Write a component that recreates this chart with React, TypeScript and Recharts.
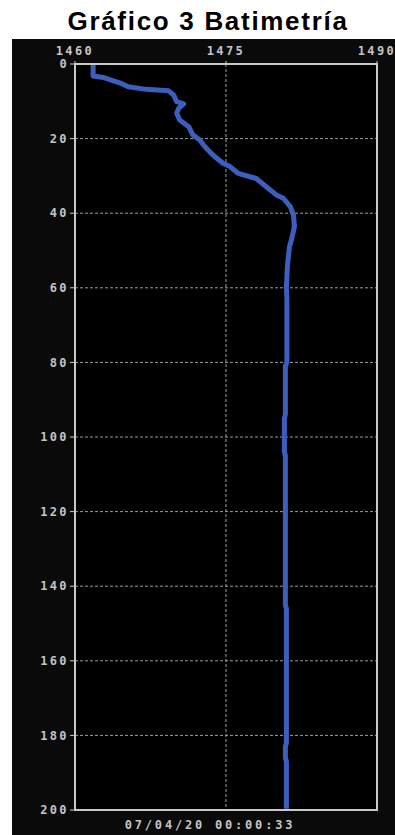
import React from "react";
import {
  LineChart,
  Line,
  XAxis,
  YAxis,
  CartesianGrid,
  ReferenceArea,
} from "recharts";

// Sound-speed profile (m/s) against depth (m)
const depths = [
  0, 3.2, 3.6, 4.3, 5.2, 6.1, 6.8, 7.2, 8.3, 10.1, 10.7, 11.9, 13.2, 15.0,
  16.8, 19.0, 20.4, 22.2, 24.4, 26.6, 27.5, 29.3, 30.7, 32.9, 35.1, 36.0, 38.3,
  40.5, 43.6, 47.2, 49.0, 54.3, 60.0, 63.0, 80.0, 81.0, 94.0, 95.0, 104.0,
  105.0, 145.0, 146.0, 182.0, 183.0, 186.0, 187.0, 199.0,
];
const speeds = [
  1461.8, 1461.8, 1462.8, 1463.6, 1464.6, 1465.3, 1467.1, 1469.3, 1469.8,
  1470.1, 1470.8, 1470.3, 1470.1, 1470.4, 1471.3, 1471.7, 1472.4, 1472.9,
  1473.7, 1474.7, 1475.4, 1476.2, 1478.0, 1479.0, 1480.0, 1480.7, 1481.4,
  1481.7, 1481.8, 1481.5, 1481.3, 1481.1, 1481.0, 1481.05, 1481.05, 1480.9,
  1480.9, 1480.8, 1480.8, 1480.9, 1480.9, 1481.0, 1481.0, 1480.9, 1480.9,
  1481.0, 1481.0,
];
const speedTicks = [1460, 1475, 1490];
const depthTicks = [0, 20, 40, 60, 80, 100, 120, 140, 160, 180, 200];
const title = "Gráfico 3 Batimetría";
const timestamp = "07/04/20 00:00:33";

const rows = depths.map((d, i) => ({ depth: d, speed: speeds[i] }));

const tickStyle = {
  fill: "#c4c4c4",
  fontSize: 12,
  fontFamily: "'DejaVu Sans Mono', monospace",
  fontWeight: "bold" as const,
  letterSpacing: 2.4,
};

export default function App() {
  return (
    <div
      style={{
        position: "absolute",
        left: 0,
        top: 0,
        width: 395,
        height: 835,
        background: "#fff",
        overflow: "hidden",
      }}
    >
      <div
        style={{
          position: "absolute",
          left: 0,
          width: 416,
          top: 6,
          textAlign: "center",
          fontFamily: "'Liberation Sans', Arial, sans-serif",
          fontWeight: "bold",
          fontSize: 26,
          letterSpacing: 1.7,
          color: "#000",
          lineHeight: "30px",
        }}
      >
        {title}
      </div>
      <div
        style={{
          position: "absolute",
          left: 12,
          top: 39,
          width: 383,
          height: 796,
          background: "#0a0a0a",
        }}
      />
      <div style={{ position: "absolute", left: 0, top: 0 }}>
        <LineChart
          width={395}
          height={835}
          layout="vertical"
          data={rows}
          margin={{ top: 34, right: 18, bottom: 25, left: 15 }}
        >
          <CartesianGrid
            fill="#000"
            stroke="#9c9c9c"
            strokeDasharray="3 2"
          />
          <XAxis
            type="number"
            dataKey="speed"
            orientation="top"
            domain={[1460, 1490]}
            ticks={speedTicks}
            allowDataOverflow
            height={30}
            tick={tickStyle}
            tickSize={3}
            tickMargin={6}
            stroke="#c8c8c8"
            axisLine={{ stroke: "#c8c8c8", strokeWidth: 2 }}
          />
          <YAxis
            type="number"
            dataKey="depth"
            domain={[0, 200]}
            ticks={depthTicks}
            allowDataOverflow
            width={60}
            tick={tickStyle}
            tickSize={5}
            tickMargin={1}
            stroke="#c8c8c8"
            axisLine={{ stroke: "#c8c8c8", strokeWidth: 2 }}
          />
          <ReferenceArea
            x1={1460}
            x2={1490}
            y1={0}
            y2={200}
            fill="none"
            fillOpacity={0}
            stroke="#c8c8c8"
            strokeWidth={2}
          />
          <Line
            dataKey="speed"
            stroke="#3c5fbe"
            strokeWidth={5}
            strokeLinejoin="round"
            strokeLinecap="square"
            dot={false}
            isAnimationActive={false}
          />
        </LineChart>
      </div>
      <div
        style={{
          position: "absolute",
          left: 110,
          width: 200,
          top: 818,
          textAlign: "center",
          color: "#c4c4c4",
          fontSize: 12,
          fontFamily: "'DejaVu Sans Mono', monospace",
          fontWeight: "bold",
          letterSpacing: 2.8,
          lineHeight: "14px",
        }}
      >
        {timestamp}
      </div>
    </div>
  );
}
